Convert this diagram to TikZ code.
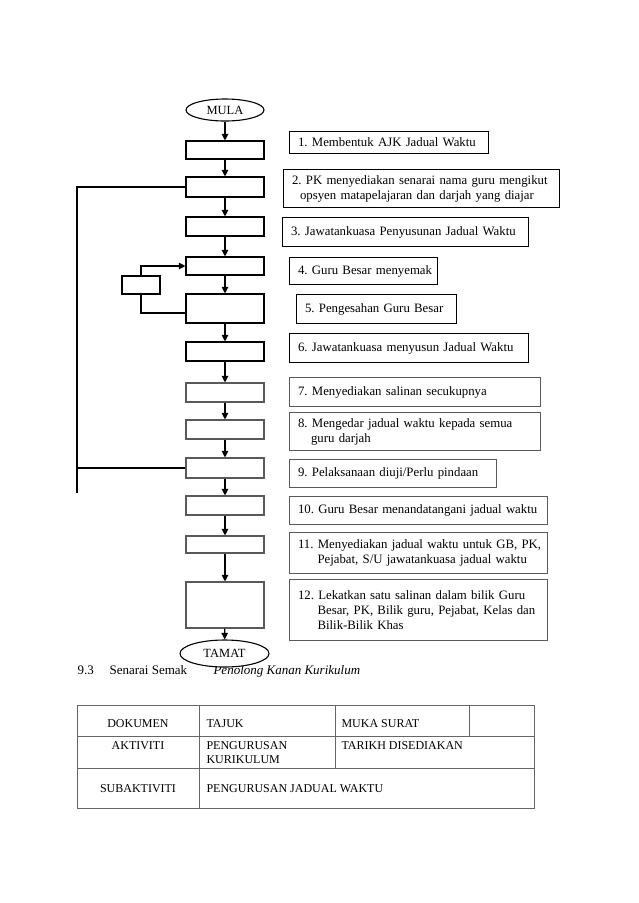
\documentclass[tikz,border=0pt]{standalone}
\usepackage{fontspec}
\setmainfont{Liberation Serif}
\usetikzlibrary{arrows.meta,shapes.geometric}
\frenchspacing
\begin{document}
\begin{tikzpicture}[x=1pt,y=-1pt, line width=1.1pt,
 fbox/.style={draw, rectangle, minimum width=78pt, inner sep=0pt},
 gbox/.style={fbox, draw=black!65},
 tbox/.style={draw, rectangle, anchor=north west, inner xsep=8.5pt, inner ysep=0pt, align=left, font=\fontsize{12.8}{15}\selectfont},
 gtbox/.style={tbox, draw=black!65},
 term/.style={draw, ellipse, fill=white, inner sep=0pt, font=\fontsize{12.5}{15}\selectfont},
 arr/.style={-{Triangle[length=6.5pt,width=6.5pt]}},
 ttext/.style={font=\fontsize{12}{14}\selectfont, inner sep=0pt},
 ctext/.style={font=\fontsize{13}{15}\selectfont, inner sep=0pt, anchor=base west},
 tline/.style={draw=black!60, line width=0.8pt}
]
\useasboundingbox (0,0) rectangle (638,903);

% start
\node[term, minimum width=78pt, minimum height=22pt] (mula) at (225,110) {MULA};

% flow boxes
\node[fbox, minimum height=18pt] (b1) at (225,150) {};
\node[fbox, minimum height=20pt] (b2) at (225,187) {};
\node[fbox, minimum height=19pt] (b3) at (225,226.5) {};
\node[fbox, minimum height=18pt] (b4) at (225,266) {};
\node[fbox, minimum height=29pt] (b5) at (225,308.5) {};
\node[fbox, minimum height=19pt] (b6) at (225,351.5) {};
\node[gbox, minimum height=19pt] (b7) at (225,392.5) {};
\node[gbox, minimum height=19pt] (b8) at (225,429.5) {};
\node[gbox, minimum height=20pt] (b9) at (225,468) {};
\node[gbox, minimum height=19pt] (b10) at (225,505.5) {};
\node[gbox, minimum height=17pt] (b11) at (225,544.5) {};
\node[gbox, minimum height=46pt] (b12) at (225,605) {};

% loop box
\node[fbox, minimum width=38pt, minimum height=18pt] (lp) at (141,285) {};

% arrows
\draw[arr] (mula) -- (b1);
\draw[arr] (b1) -- (b2);
\draw[arr] (b2) -- (b3);
\draw[arr] (b3) -- (b4);
\draw[arr] (b4) -- (b5);
\draw[arr] (b5) -- (b6);
\draw[arr] (b6) -- (b7);
\draw[arr] (b7) -- (b8);
\draw[arr] (b8) -- (b9);
\draw[arr] (b9) -- (b10);
\draw[arr] (b10) -- (b11);
\draw[arr] (b11) -- (b12);

% loop
\draw ([yshift=-4.5pt]b5.west) -| (lp.south);
\draw[arr] (lp.north) |- (b4.west);

% feedback line
\coordinate (fbend) at (77,493);
\draw (b2.west) -- (b2.west -| fbend) -- (fbend);
\draw (b9.west) -- (b9.west -| fbend);

% text boxes
\node[tbox, text width=182pt, minimum height=22pt] (t1) at (289,131) {\mbox{1. Membentuk AJK Jadual Waktu}};
\node[tbox, text width=259pt, minimum height=38pt] (t2) at (283,169) {\mbox{2. PK menyediakan senarai nama guru mengikut}\\\hspace*{8pt}\mbox{opsyen matapelajaran dan darjah yang diajar}};
\node[tbox, text width=229pt, minimum height=29pt] (t3) at (282,217) {\mbox{3. Jawatankuasa Penyusunan Jadual Waktu}};
\node[tbox, text width=131pt, minimum height=27pt] (t4) at (289,257) {\mbox{4. Guru Besar menyemak}};
\node[tbox, text width=143pt, minimum height=29pt] (t5) at (296,294) {\mbox{5. Pengesahan Guru Besar}};
\node[tbox, text width=222pt, minimum height=29pt] (t6) at (289,333) {\mbox{6. Jawatankuasa menyusun Jadual Waktu}};
\node[gtbox, text width=234pt, minimum height=29pt] (t7) at (289,377) {\mbox{7. Menyediakan salinan secukupnya}};
\node[gtbox, text width=234pt, minimum height=38pt] (t8) at (289,412) {\mbox{8. Mengedar jadual waktu kepada semua}\\\hspace*{13pt}\mbox{guru darjah}};
\node[gtbox, text width=190pt, minimum height=28pt] (t9) at (289,459) {\mbox{9. Pelaksanaan diuji/Perlu pindaan}};
\node[gtbox, text width=241pt, minimum height=28pt] (t10) at (289,496) {\mbox{10. Guru Besar menandatangani jadual waktu}};
\node[gtbox, text width=241pt, minimum height=41pt] (t11) at (289,532) {\mbox{11. Menyediakan jadual waktu untuk GB, PK,}\\\hspace*{19.5pt}\mbox{Pejabat, S/U jawatankuasa jadual waktu}};
\node[gtbox, text width=241pt, minimum height=61pt] (t12) at (289,579) {\mbox{12. Lekatkan satu salinan dalam bilik Guru}\\\hspace*{19.5pt}\mbox{Besar, PK, Bilik guru, Pejabat, Kelas dan}\\\hspace*{19.5pt}\mbox{Bilik-Bilik Khas}};

% caption
\node[ctext] (c1) at (77,674) {9.3};
\node[ctext] (c2) at (109,674) {Senarai Semak};
\node[ctext, font=\fontsize{13}{15}\selectfont\itshape] (c3) at (213,674) {Penolong Kanan Kurikulum};

% end
\node[term, minimum width=89pt, minimum height=27pt] (tamat) at (224.5,653.5) {TAMAT};
\draw[arr] (b12) -- (tamat);

% table
\draw[tline] (77,705) rectangle (534,808);
\draw[tline] (77,736) -- (534,736);
\draw[tline] (77,768) -- (534,768);
\draw[tline] (199,705) -- (199,808);
\draw[tline] (335,705) -- (335,768);
\draw[tline] (469,705) -- (469,736);

\node[ttext, anchor=base] (d1) at (138,727) {DOKUMEN};
\node[ttext, anchor=base west] (d2) at (206,727) {TAJUK};
\node[ttext, anchor=base west] (d3) at (341,727) {MUKA SURAT};
\node[ttext, anchor=base] (a1) at (138,749) {AKTIVITI};
\node[ttext, anchor=base west] (a2) at (206,749) {PENGURUSAN};
\node[ttext, anchor=base west] (a2b) at (206,763) {KURIKULUM};
\node[ttext, anchor=base west] (a3) at (341,749) {TARIKH DISEDIAKAN};
\node[ttext, anchor=base] (s1) at (138,792) {SUBAKTIVITI};
\node[ttext, anchor=base west] (s2) at (206,792) {PENGURUSAN JADUAL WAKTU};
\end{tikzpicture}
\end{document}
